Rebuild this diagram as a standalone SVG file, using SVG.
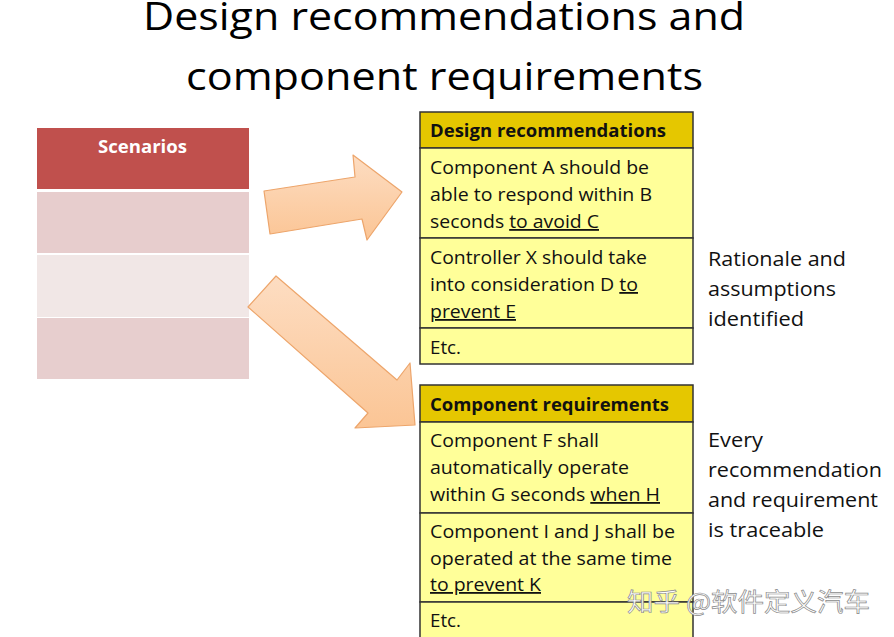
<svg xmlns="http://www.w3.org/2000/svg" width="894" height="637" viewBox="0 0 894 637">
  <style>
    .title { font-family: "Open Sans", "Liberation Sans", sans-serif; font-size: 38px; fill: #000; }
    .body { font-family: "Open Sans", "Liberation Sans", sans-serif; font-size: 18px; fill: #111; }
    .head { font-family: "Open Sans", "Liberation Sans", sans-serif; font-size: 17px; font-weight: bold; fill: #111; }
    .note { font-family: "Open Sans", "Liberation Sans", sans-serif; font-size: 19.5px; fill: #111; }
    .u { text-decoration: underline; }
    .cell { fill: #FFFF99; stroke: #333; stroke-width: 1.5; }
    .hcell { fill: #E5C700; stroke: #333; stroke-width: 1.5; }
    .arrow { fill: url(#peach); stroke: #EDA56B; stroke-width: 1.2; stroke-linejoin: round; }
    .mark { font-family: "Noto Sans CJK SC", "Noto Sans", sans-serif; font-size: 25px; fill: #fff; stroke: #8a8a8a; stroke-width: 0.7; }
  </style>
  <defs>
    <linearGradient id="peach" x1="0" y1="0" x2="0" y2="1">
      <stop offset="0" stop-color="#FDDDC2"/>
      <stop offset="1" stop-color="#FBC595"/>
    </linearGradient>
  </defs>

  <rect width="894" height="637" fill="#fff"/>

  <g id="title">
    <text class="title" x="143" y="30" textLength="602" lengthAdjust="spacingAndGlyphs">Design recommendations and</text>
    <text class="title" x="186" y="90" textLength="517" lengthAdjust="spacingAndGlyphs">component requirements</text>
  </g>

  <g id="scenarios">
    <rect x="37" y="128" width="212" height="61" fill="#C0504D"/>
    <rect x="37" y="192" width="212" height="61" fill="#E7CDCD"/>
    <rect x="37" y="255" width="212" height="62" fill="#F1E7E6"/>
    <rect x="37" y="318" width="212" height="61" fill="#E7CECE"/>
    <text x="98" y="153" textLength="89" lengthAdjust="spacingAndGlyphs" font-family="'Open Sans', 'Liberation Sans', sans-serif" font-size="18" font-weight="bold" fill="#fff">Scenarios</text>
  </g>

  <g id="connectors">
    <polygon class="arrow" points="264,191 355,177 353,155 402,192 367,240 362,219 270,234"/>
    <polygon class="arrow" points="276,276 397,380 410,363 415,425 355,428 368,413 248,307"/>
  </g>

  <g id="design-recommendations">
    <rect class="hcell" x="420" y="112" width="273" height="36"/>
    <rect class="cell" x="420" y="148" width="273" height="90"/>
    <rect class="cell" x="420" y="238" width="273" height="90"/>
    <rect class="cell" x="420" y="328" width="273" height="36"/>
    <text class="head" x="430" y="137" textLength="236" lengthAdjust="spacingAndGlyphs">Design recommendations</text>
    <text class="body" x="430" y="174" textLength="219" lengthAdjust="spacingAndGlyphs">Component A should be</text>
    <text class="body" x="430" y="201" textLength="222" lengthAdjust="spacingAndGlyphs">able to respond within B</text>
    <text class="body" x="430" y="228" textLength="169" lengthAdjust="spacingAndGlyphs">seconds <tspan class="u">to avoid C</tspan></text>
    <text class="body" x="430" y="264" textLength="217" lengthAdjust="spacingAndGlyphs">Controller X should take</text>
    <text class="body" x="430" y="291" textLength="208" lengthAdjust="spacingAndGlyphs">into consideration D <tspan class="u">to</tspan></text>
    <text class="body u" x="430" y="318" textLength="86" lengthAdjust="spacingAndGlyphs">prevent E</text>
    <text class="body" x="430" y="354" textLength="31" lengthAdjust="spacingAndGlyphs">Etc.</text>
  </g>

  <g id="component-requirements">
    <rect class="hcell" x="420" y="385" width="273" height="37"/>
    <rect class="cell" x="420" y="422" width="273" height="91"/>
    <rect class="cell" x="420" y="513" width="273" height="89"/>
    <rect class="cell" x="420" y="602" width="273" height="45"/>
    <text class="head" x="430" y="411" textLength="239" lengthAdjust="spacingAndGlyphs">Component requirements</text>
    <text class="body" x="430" y="447" textLength="169" lengthAdjust="spacingAndGlyphs">Component F shall</text>
    <text class="body" x="430" y="474" textLength="199" lengthAdjust="spacingAndGlyphs">automatically operate</text>
    <text class="body" x="430" y="501" textLength="230" lengthAdjust="spacingAndGlyphs">within G seconds <tspan class="u">when H</tspan></text>
    <text class="body" x="430" y="538" textLength="245" lengthAdjust="spacingAndGlyphs">Component I and J shall be</text>
    <text class="body" x="430" y="565" textLength="242" lengthAdjust="spacingAndGlyphs">operated at the same time</text>
    <text class="body u" x="430" y="591" textLength="111" lengthAdjust="spacingAndGlyphs">to prevent K</text>
    <text class="body" x="430" y="627" textLength="31" lengthAdjust="spacingAndGlyphs">Etc.</text>
  </g>

  <g id="rationale-note">
    <text class="note" x="708" y="266" textLength="138" lengthAdjust="spacingAndGlyphs">Rationale and</text>
    <text class="note" x="708" y="296" textLength="128" lengthAdjust="spacingAndGlyphs">assumptions</text>
    <text class="note" x="708" y="326" textLength="96" lengthAdjust="spacingAndGlyphs">identified</text>
  </g>

  <g id="traceability-note">
    <text class="note" x="708" y="447" textLength="55" lengthAdjust="spacingAndGlyphs">Every</text>
    <text class="note" x="708" y="477" textLength="174" lengthAdjust="spacingAndGlyphs">recommendation</text>
    <text class="note" x="708" y="507" textLength="170" lengthAdjust="spacingAndGlyphs">and requirement</text>
    <text class="note" x="708" y="537" textLength="116" lengthAdjust="spacingAndGlyphs">is traceable</text>
  </g>

  <g id="watermark">
    <text class="mark" x="627" y="611" textLength="243" lengthAdjust="spacingAndGlyphs">知乎 @软件定义汽车</text>
  </g>
</svg>
